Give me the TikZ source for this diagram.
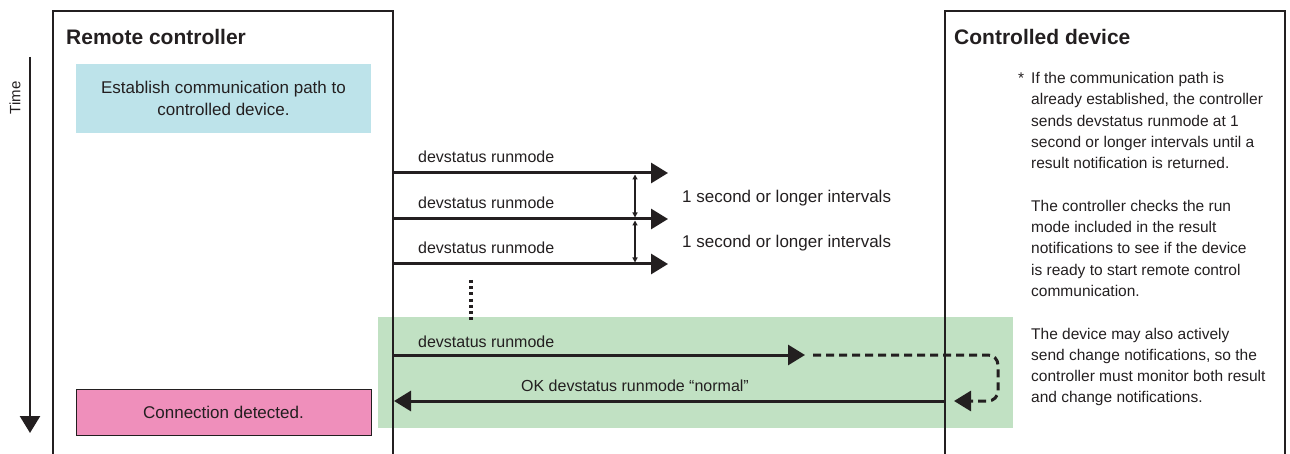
\documentclass[tikz,border=0pt]{standalone}
\usepackage{fontspec}
\setmainfont{Liberation Sans}
\usepackage{xcolor}
\definecolor{seqink}{RGB}{35,31,32}
\definecolor{seqcyan}{RGB}{189,227,234}
\definecolor{seqpink}{RGB}{239,143,187}
\definecolor{seqgreen}{RGB}{193,225,195}
\usetikzlibrary{arrows.meta,positioning,calc}

\begin{document}
\begin{tikzpicture}[
  x=1pt,y=-1pt,
  every node/.style={text=seqink,inner sep=0pt},
  lane/.style={draw=seqink,line width=2pt},
  title/.style={font=\fontsize{21}{24}\selectfont\bfseries,anchor=base west},
  stepbox/.style={minimum width=295pt,align=center,font=\fontsize{17}{22}\selectfont},
  msg/.style={-{Triangle[length=17pt,width=20pt]},line width=3pt,draw=seqink},
  msglbl/.style={font=\fontsize{16}{19}\selectfont,anchor=base west},
  gap/.style={{Triangle[length=5pt,width=5pt]}-{Triangle[length=5pt,width=5pt]},line width=1.2pt,draw=seqink},
  gaplbl/.style={font=\fontsize{17}{20}\selectfont,anchor=base west},
  note/.style={font=\fontsize{15.5}{21.3}\selectfont,align=left,anchor=north west},
]
  \useasboundingbox (0,0) rectangle (1290,454);

  % Highlighted exchange
  \fill[seqgreen] (378,317) rectangle (1013,428);

  % Participants
  \draw[lane] (53,454) |- (393,11) -- (393,454);
  \draw[lane] (945,454) |- (1285,11) -- (1285,454);
  \node[title] (rc) at (66,45) {Remote controller};
  \node[title] (cd) at (954,45) {Controlled device};

  % Time axis
  \draw[line width=2.5pt,draw=seqink,-{Triangle[length=17pt,width=20pt]}] (30,57) -- (30,433);
  \node[rotate=90,font=\fontsize{15}{18}\selectfont] (time) at (15,98) {Time};

  % Controller steps
  \node[stepbox,fill=seqcyan,minimum height=69pt] (estab) at (223.5,98.5)
    {Establish communication path to\\controlled device.};
  \node[stepbox,fill=seqpink,draw=seqink,line width=0.8pt,minimum height=46pt] (detect) at (223.5,412)
    {Connection detected.};

  % Polling requests
  \foreach \i/\y in {1/173,2/219,3/264}{
    \coordinate (req\i) at (393,\y);
    \coordinate (reqend\i) at (668,\y);
    \draw[msg] (req\i) -- (reqend\i);
    \node[msglbl] (reqlbl\i) at (418,\y-10) {devstatus runmode};
  }
  \draw[gap] ($(req1)+(242,1.5)$) -- ($(req2)+(242,-1.5)$);
  \draw[gap] ($(req2)+(242,1.5)$) -- ($(req3)+(242,-1.5)$);
  \node[gaplbl] (int1) at (682,203) {1 second or longer intervals};
  \node[gaplbl] (int2) at (682,248) {1 second or longer intervals};

  % Repeat
  \coordinate (dots) at (471,280);
  \draw[draw=seqink,line width=4pt,dash pattern=on 3pt off 3.2pt] (dots) -- ++(0,42);

  % Final request and reply
  \coordinate (req4) at (393,355);
  \coordinate (reqend4) at (805,355);
  \draw[msg] (req4) -- (reqend4);
  \node[msglbl] (reqlbl4) at (418,347) {devstatus runmode};
  \coordinate (turn) at (813,355);
  \coordinate (back) at (954,401);
  \draw[draw=seqink,line width=3pt,dash pattern=on 8pt off 5pt,rounded corners=10pt,
        -{Triangle[length=17pt,width=20pt]}] (turn) -- (998,355) -- (998,401) -- (back);
  \coordinate (rep) at (945,401);
  \coordinate (repend) at (394,401);
  \draw[msg] (rep) -- (repend);
  \node[msglbl,anchor=base] (replbl) at (635,391) {OK devstatus runmode “normal”};

  % Notes
  \node[note] (notes) at (1031,72)
    {\llap{*\hspace{7pt}}If the communication path is\\
     already established, the controller\\
     sends devstatus runmode at 1\\
     second or longer intervals until a\\
     result notification is returned.\\[21.3pt]
     The controller checks the run\\
     mode included in the result\\
     notifications to see if the device\\
     is ready to start remote control\\
     communication.\\[21.3pt]
     The device may also actively\\
     send change notifications, so the\\
     controller must monitor both result\\
     and change notifications.};
\end{tikzpicture}
\end{document}
